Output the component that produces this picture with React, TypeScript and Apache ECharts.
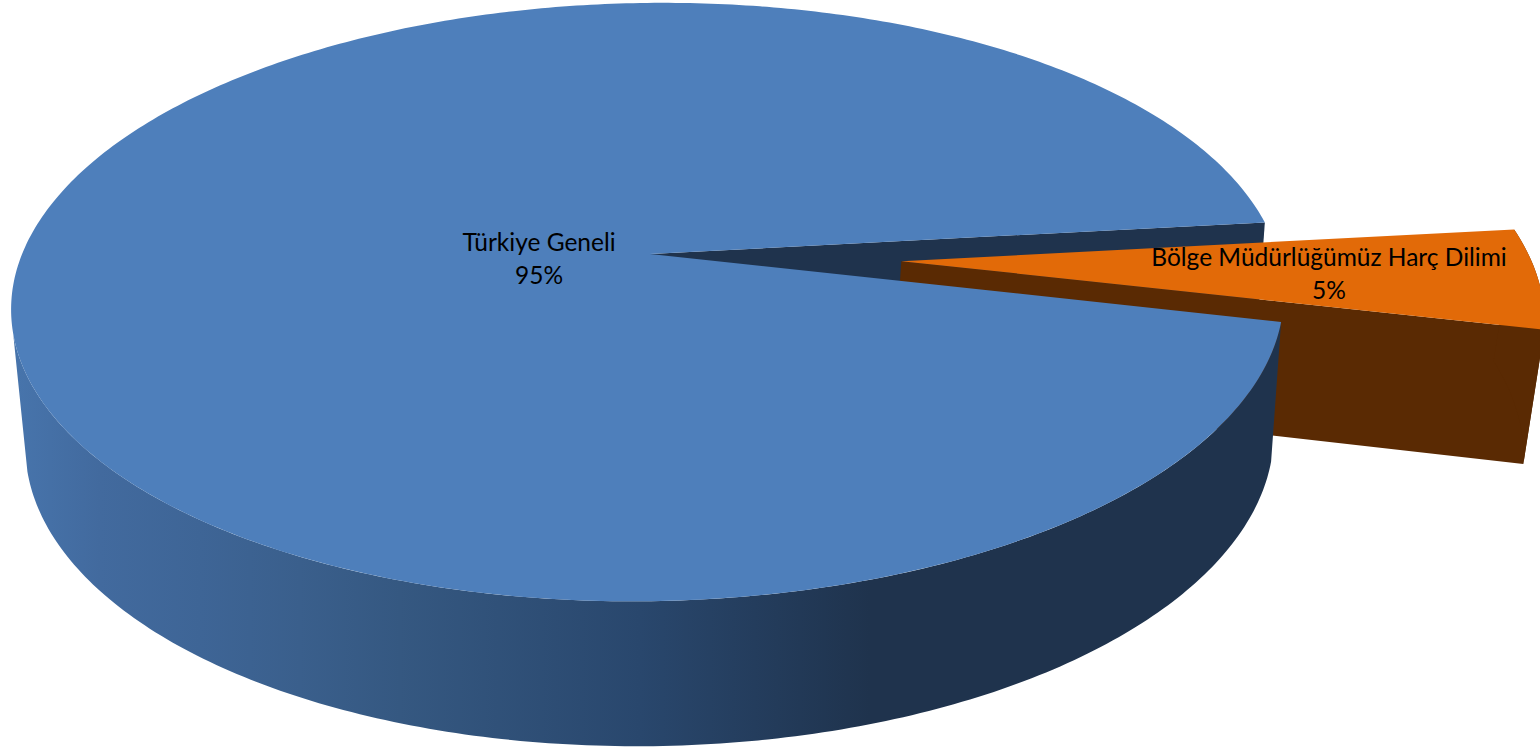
import React, { useEffect, useRef } from "react";
import * as echarts from "echarts";

const categories = ["Bölge Müdürlüğümüz Harç Dilimi", "Türkiye Geneli"];
const shares = [5, 95];

const W = 1540;
const H = 748;

// Perspective of the disc: unit circle -> screen
const TOP = { cx: 650, cy: 254, rx: 628, ry: 291.3, sh: 0.018 };
const BOTTOM = { cx: 652, cy: 391, rx: 616, ry: 298, sh: 0.017 };
const BOTTOM_EXPLODED = { cx: 646, cy: 385, rx: 616, ry: 298, sh: 0.017 };
const K = 0.1605;
const Q = 0.0063;
const SKEW_X = 9;
const SLICE_START = -4.1; // degrees, upper edge of the small slice
const WEDGE_STRETCH = 1.072; // angle widening from the 3D view
const EXPLODE = { u: 0.398, v: 0.04 };
const WALL_END = 167; // silhouette angle on the left

type Plane = { cx: number; cy: number; rx: number; ry: number; sh: number };

function project(p: Plane, u: number, v: number): number[] {
  const w = 1 - K * v + Q * u;
  const a = u / w;
  const b = v / w;
  return [p.cx + p.rx * a + SKEW_X * b, p.cy + p.ry * b - p.sh * p.rx * a];
}

function arc(p: Plane, a0: number, a1: number, du = 0, dv = 0): number[][] {
  const n = Math.max(2, Math.ceil(Math.abs(a1 - a0) / 0.75));
  const pts: number[][] = [];
  for (let i = 0; i <= n; i++) {
    const t = ((a0 + ((a1 - a0) * i) / n) * Math.PI) / 180;
    pts.push(project(p, Math.cos(t) + du, Math.sin(t) + dv));
  }
  return pts;
}

const wallGradient = () =>
  new echarts.graphic.LinearGradient(
    0,
    0,
    W,
    0,
    [
      { offset: 0, color: "#4876ae" },
      { offset: 100 / W, color: "#426a9e" },
      { offset: 200 / W, color: "#3e6596" },
      { offset: 300 / W, color: "#3a5f8c" },
      { offset: 400 / W, color: "#355881" },
      { offset: 640 / W, color: "#29476d" },
      { offset: 870 / W, color: "#1f334d" },
      { offset: 1, color: "#1f334d" },
    ],
    true
  );

const labelStyle = {
  fill: "#000",
  fontSize: 24.5,
  fontFamily: "Lato, 'Open Sans', sans-serif",
  lineHeight: 33,
  align: "center",
  verticalAlign: "middle",
};

function renderSlice(params: any, api: any) {
  const value = api.value(0) as number;
  const total = shares.reduce((a, b) => a + b, 0);
  const small = params.dataIndex === 0;
  const sweep = (shares[0] / total) * 360 * WEDGE_STRETCH;
  const aStart = SLICE_START;
  const aEnd = SLICE_START + sweep;
  const label = `${categories[params.dataIndex]}\n${Math.round((value / total) * 100)}%`;
  const poly = (points: number[][], fill: any, z2: number) => ({
    type: "polygon",
    shape: { points },
    style: { fill, stroke: null },
    z2,
  });
  if (small) {
    const du = EXPLODE.u;
    const dv = EXPLODE.v;
    const apexTop = project(TOP, du, dv);
    const apexBottom = project(BOTTOM_EXPLODED, du, dv);
    const topArc = arc(TOP, aStart, aEnd, du, dv);
    const botArc = arc(BOTTOM_EXPLODED, aStart, aEnd, du, dv);
    return {
      type: "group",
      children: [
        poly(
          [apexTop, topArc[topArc.length - 1], botArc[botArc.length - 1], apexBottom],
          "#5a2a03",
          10
        ),
        poly([...topArc, ...botArc.slice().reverse()], "#5a2a03", 11),
        poly([apexTop, ...topArc], "#e26a08", 12),
        {
          type: "text",
          x: 1329,
          y: 272.5,
          z2: 40,
          style: { text: label, ...labelStyle },
        },
      ],
    };
  }
  const apexTop = project(TOP, 0, 0);
  const apexBottom = project(BOTTOM, 0, 0);
  const rimTop = arc(TOP, aEnd, aStart + 360);
  const su = Math.cos((aStart * Math.PI) / 180);
  const sv = Math.sin((aStart * Math.PI) / 180);
  const wallTop = arc(TOP, aEnd, WALL_END);
  const wallBottom = arc(BOTTOM, aEnd, WALL_END);
  return {
    type: "group",
    children: [
      poly([apexTop, project(TOP, su, sv), project(BOTTOM, su, sv), apexBottom], "#1f334d", 5),
      poly([...wallTop, ...wallBottom.slice().reverse()], wallGradient(), 20),
      poly([apexTop, ...rimTop], "#4e7fbb", 21),
      {
        type: "text",
        x: 539,
        y: 258,
        z2: 40,
        style: { text: label, ...labelStyle },
      },
    ],
  };
}

export default function App() {
  const ref = useRef<HTMLDivElement>(null);
  useEffect(() => {
    document.body.style.margin = "0";
    const chart = echarts.init(ref.current!, undefined, { renderer: "svg" });
    chart.setOption({
      animation: false,
      backgroundColor: "#ffffff",
      series: [
        {
          type: "custom",
          coordinateSystem: "none",
          renderItem: renderSlice,
          silent: true,
          data: shares.map((v, i) => ({ name: categories[i], value: [v] })),
        },
      ],
    });
    return () => chart.dispose();
  }, []);
  return <div ref={ref} style={{ width: W, height: H, overflow: "hidden" }} />;
}
